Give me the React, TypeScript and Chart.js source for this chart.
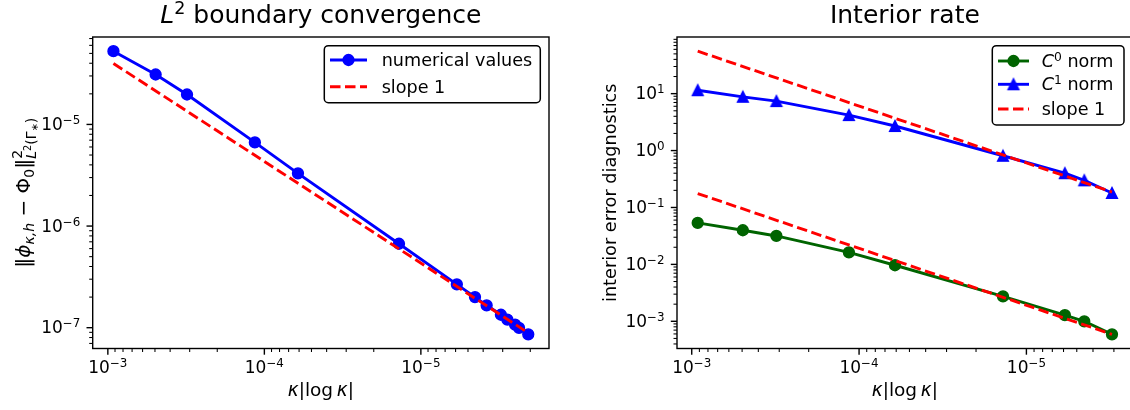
import { useEffect, useRef } from "react";
import { Chart, registerables } from "chart.js";

Chart.register(...registerables);

// ---------------- data ----------------
// Left panel: L2 boundary convergence
const boundaryKappa = [9.21e-4, 4.95e-4, 3.12e-4, 1.15e-4, 6.1e-5, 1.38e-5, 5.89e-6, 4.51e-6, 3.8e-6, 3.08e-6, 2.8e-6, 2.5e-6, 2.36e-6, 2.06e-6];
const boundaryError = [5.26e-5, 3.1e-5, 1.97e-5, 6.65e-6, 3.3e-6, 6.7e-7, 2.67e-7, 2.0e-7, 1.66e-7, 1.34e-7, 1.2e-7, 1.07e-7, 9.95e-8, 8.6e-8];
const boundarySlopeX = [9.21e-4, 2.06e-6];
const boundarySlopeY = [3.98e-5, 8.9e-8];

// Right panel: interior rate
const interiorKappa = [9.21e-4, 4.95e-4, 3.12e-4, 1.15e-4, 6.1e-5, 1.38e-5, 5.89e-6, 4.51e-6, 3.08e-6];
const interiorC0 = [0.0535, 0.0398, 0.0316, 0.0163, 0.00966, 0.00275, 0.00128, 0.001, 0.00059];
const interiorC1 = [11.5, 8.8, 7.4, 4.2, 2.7, 0.81, 0.4, 0.3, 0.18];
const interiorSlopeX = [9.21e-4, 3.08e-6];
const interiorSlopeUpperY = [55.8, 0.187];
const interiorSlopeLowerY = [0.176, 5.9e-4];

// ---------------- styles ----------------
const BLUE = "#0000ff";
const RED = "#ff0000";
const GREEN = "#006400";
const LW = 2.9;
const DASH = [10.5, 4.5];
const MARKER_R = 5.4;
const TICK_F = 17;
const LABEL_F = 17.7;
const XLABEL_F = 18.5;
const YLABEL_MATH_F = 20;
const LEGEND_F = 17.6;
const TITLE_F = 25;
const FAMILY = '"DejaVu Sans", "Liberation Sans", sans-serif';
const H = 410;

type Seg = { t: string; it?: boolean; s?: number; dy?: number; save?: boolean; restore?: boolean };

function segFont(F: number, g: Seg) {
  return `${g.it ? "italic " : ""}${(F * (g.s ?? 1)).toFixed(2)}px ${FAMILY}`;
}

function drawRich(
  ctx: CanvasRenderingContext2D,
  segs: Seg[],
  F: number,
  x: number,
  y: number,
  align: "left" | "center" | "right",
  rot = 0
) {
  let cx = 0;
  let saved = 0;
  let far = 0;
  const items: { g: Seg; x: number }[] = [];
  for (const g of segs) {
    if (g.restore) cx = saved;
    if (g.save) saved = cx;
    ctx.font = segFont(F, g);
    items.push({ g, x: cx });
    cx += ctx.measureText(g.t).width;
    far = Math.max(far, cx);
  }
  const x0 = align === "left" ? 0 : align === "center" ? -far / 2 : -far;
  ctx.save();
  ctx.translate(x, y);
  if (rot) ctx.rotate(rot);
  ctx.fillStyle = "#000";
  ctx.textAlign = "left";
  ctx.textBaseline = "alphabetic";
  for (const it of items) {
    ctx.font = segFont(F, it.g);
    ctx.fillText(it.g.t, x0 + it.x, (it.g.dy ?? 0) * F);
  }
  ctx.restore();
}

function powLabel(n: number): Seg[] {
  return [{ t: "10" }, { t: n < 0 ? "\u2212" + String(-n) : String(n), s: 0.7, dy: -0.35 }];
}

function triangleMarker(color: string) {
  const c = document.createElement("canvas");
  c.width = 16;
  c.height = 16;
  const g = c.getContext("2d")!;
  const h = MARKER_R;
  g.beginPath();
  g.moveTo(8, 8 - h);
  g.lineTo(8 - h, 8 + h);
  g.lineTo(8 + h, 8 + h);
  g.closePath();
  g.fillStyle = color;
  g.fill();
  g.lineWidth = 1.4;
  g.strokeStyle = color;
  g.stroke();
  return c;
}

function logLimits(values: number[]) {
  const lo = Math.log10(Math.min(...values));
  const hi = Math.log10(Math.max(...values));
  const m = (hi - lo) * 0.05;
  return { min: Math.pow(10, lo - m), max: Math.pow(10, hi + m) };
}

type LegendEntry = { y: number; segs: Seg[]; color: string; dash?: number[]; marker?: "circle" | "triangle" };
type PanelSpec = {
  left: number;
  width: number;
  area: { l: number; r: number; t: number; b: number };
  datasets: any[];
  allX: number[];
  allY: number[];
  title: Seg[];
  ylabel: Seg[];
  ylabelF: number;
  ylabelX: number;
  legend: { x: number; y: number; w: number; h: number; lx1: number; lx2: number; tx: number; entries: LegendEntry[] };
};

function pts(xs: number[], ys: number[]) {
  return xs.map((x, i) => ({ x, y: ys[i] }));
}

const xLabel: Seg[] = [{ t: "κ", it: true }, { t: "|" }, { t: "log" }, { t: "\u2009" }, { t: "κ", it: true }, { t: "|" }];

function decorPlugin(spec: PanelSpec, tri: HTMLCanvasElement) {
  return {
    id: "decor",
    afterDraw(chart: any) {
      const ctx: CanvasRenderingContext2D = chart.ctx;
      const xs = chart.scales.x;
      const ys = chart.scales.y;
      const ox = spec.left;
      const { l, r, t, b } = spec.area;
      ctx.save();
      ctx.translate(-ox, 0);
      ctx.strokeStyle = "#000";
      ctx.setLineDash([]);
      // x ticks
      const xLo = Math.floor(Math.log10(xs.min));
      const xHi = Math.ceil(Math.log10(xs.max));
      for (let n = xLo; n <= xHi; n++) {
        for (let k = 1; k <= 9; k++) {
          const v = k * Math.pow(10, n);
          if (v < xs.min || v > xs.max) continue;
          const px = xs.getPixelForValue(v) + ox;
          ctx.lineWidth = k === 1 ? 1.4 : 1.05;
          ctx.beginPath();
          ctx.moveTo(px, b);
          ctx.lineTo(px, b + (k === 1 ? 6.2 : 3.5));
          ctx.stroke();
          if (k === 1) drawRich(ctx, powLabel(n), TICK_F, px, b + 24, "center");
        }
      }
      // y ticks
      const yLo = Math.floor(Math.log10(ys.min));
      const yHi = Math.ceil(Math.log10(ys.max));
      for (let n = yLo; n <= yHi; n++) {
        for (let k = 1; k <= 9; k++) {
          const v = k * Math.pow(10, n);
          if (v < ys.min || v > ys.max) continue;
          const py = ys.getPixelForValue(v);
          ctx.lineWidth = k === 1 ? 1.4 : 1.05;
          ctx.beginPath();
          ctx.moveTo(l, py);
          ctx.lineTo(l - (k === 1 ? 6.2 : 3.5), py);
          ctx.stroke();
          if (k === 1) drawRich(ctx, powLabel(n), TICK_F, l - 12.4, py + 5.5, "right");
        }
      }
      // frame
      ctx.lineWidth = 1.4;
      ctx.strokeRect(l, t, r - l, b - t);
      // axis labels & title
      drawRich(ctx, xLabel, XLABEL_F, (l + r) / 2, 396, "center");
      drawRich(ctx, spec.ylabel, spec.ylabelF, spec.ylabelX, (t + b) / 2, "center", -Math.PI / 2);
      drawRich(ctx, spec.title, TITLE_F, (l + r) / 2, 23.3, "center");
      // legend
      const lg = spec.legend;
      ctx.beginPath();
      ctx.roundRect(lg.x, lg.y, lg.w, lg.h, 4);
      ctx.fillStyle = "#fff";
      ctx.fill();
      ctx.lineWidth = 1.5;
      ctx.strokeStyle = "#000";
      ctx.stroke();
      for (const e of lg.entries) {
        ctx.save();
        ctx.strokeStyle = e.color;
        ctx.lineWidth = LW;
        ctx.setLineDash(e.dash ?? []);
        ctx.beginPath();
        ctx.moveTo(lg.lx1, e.y);
        ctx.lineTo(lg.lx2, e.y);
        ctx.stroke();
        ctx.setLineDash([]);
        const mx = (lg.lx1 + lg.lx2) / 2;
        if (e.marker === "circle") {
          ctx.beginPath();
          ctx.arc(mx, e.y, MARKER_R, 0, Math.PI * 2);
          ctx.fillStyle = e.color;
          ctx.fill();
          ctx.lineWidth = 1.5;
          ctx.stroke();
        } else if (e.marker === "triangle") {
          ctx.drawImage(tri, mx - 8, e.y - 8);
        }
        ctx.restore();
        drawRich(ctx, e.segs, LEGEND_F, lg.tx, e.y + 6.1, "left");
      }
      ctx.restore();
    },
  };
}

function buildChart(canvas: HTMLCanvasElement, spec: PanelSpec, tri: HTMLCanvasElement) {
  const xLim = logLimits(spec.allX);
  const yLim = logLimits(spec.allY);
  return new Chart(canvas, {
    type: "line",
    data: { datasets: spec.datasets },
    options: {
      animation: false,
      responsive: false,
      devicePixelRatio: 1,
      events: [],
      layout: {
        padding: {
          left: spec.area.l - spec.left,
          right: spec.left + spec.width - spec.area.r,
          top: spec.area.t,
          bottom: H - spec.area.b,
        },
      },
      scales: {
        x: { type: "logarithmic", reverse: true, min: xLim.min, max: xLim.max, bounds: "data", display: false },
        y: { type: "logarithmic", min: yLim.min, max: yLim.max, bounds: "data", display: false },
      },
      plugins: { legend: { display: false }, tooltip: { enabled: false }, title: { display: false } },
    } as any,
    plugins: [decorPlugin(spec, tri) as any],
  });
}

function lineDs(label: string, data: any[], color: string, order: number, extra: any = {}) {
  return {
    label,
    data,
    borderColor: color,
    backgroundColor: color,
    borderWidth: LW,
    borderJoinStyle: "round",
    tension: 0,
    fill: false,
    pointRadius: MARKER_R,
    pointBorderWidth: 1.5,
    pointBackgroundColor: color,
    pointBorderColor: color,
    pointStyle: "circle",
    order,
    ...extra,
  };
}

function leftSpec(): PanelSpec {
  return {
    left: 0,
    width: 565,
    area: { l: 92.7, r: 549, t: 37, b: 348.5 },
    datasets: [
      lineDs("numerical values", pts(boundaryKappa, boundaryError), BLUE, 1),
      lineDs("slope 1", pts(boundarySlopeX, boundarySlopeY), RED, 0, { borderDash: DASH, pointRadius: 0 }),
    ],
    allX: [...boundaryKappa, ...boundarySlopeX],
    allY: [...boundaryError, ...boundarySlopeY],
    title: [{ t: "L", it: true }, { t: "2", s: 0.7, dy: -0.37 }, { t: " boundary convergence" }],
    ylabel: [
      { t: "‖" },
      { t: "ϕ", it: true },
      { t: "κ,h", it: true, s: 0.7, dy: 0.22 },
      { t: " − " },
      { t: "Φ" },
      { t: "0", s: 0.7, dy: 0.22 },
      { t: "‖" },
      { t: "2", s: 0.7, dy: -0.42, save: true },
      { t: "L", it: true, s: 0.7, dy: 0.32, restore: true },
      { t: "2", s: 0.49, dy: 0.05 },
      { t: "(Γ", s: 0.7, dy: 0.32 },
      { t: "∗", s: 0.49, dy: 0.42 },
      { t: ")", s: 0.7, dy: 0.32 },
    ],
    ylabelF: YLABEL_MATH_F,
    ylabelX: 30,
    legend: {
      x: 324.3,
      y: 45.7,
      w: 216,
      h: 57,
      lx1: 330,
      lx2: 367,
      tx: 381.7,
      entries: [
        { y: 60, segs: [{ t: "numerical values" }], color: BLUE, marker: "circle" },
        { y: 86.7, segs: [{ t: "slope 1" }], color: RED, dash: DASH },
      ],
    },
  };
}

function rightSpec(tri: HTMLCanvasElement): PanelSpec {
  return {
    left: 565,
    width: 580,
    area: { l: 677, r: 1132.7, t: 37, b: 348.5 },
    datasets: [
      lineDs("C0 norm", pts(interiorKappa, interiorC0), GREEN, 3),
      lineDs("C1 norm", pts(interiorKappa, interiorC1), BLUE, 2, { pointStyle: tri }),
      lineDs("slope 1", pts(interiorSlopeX, interiorSlopeUpperY), RED, 1, { borderDash: DASH, pointRadius: 0 }),
      lineDs("slope 1 (lower)", pts(interiorSlopeX, interiorSlopeLowerY), RED, 0, { borderDash: DASH, pointRadius: 0 }),
    ],
    allX: [...interiorKappa, ...interiorSlopeX],
    allY: [...interiorC0, ...interiorC1, ...interiorSlopeUpperY, ...interiorSlopeLowerY],
    title: [{ t: "Interior rate" }],
    ylabel: [{ t: "interior error diagnostics" }],
    ylabelF: LABEL_F,
    ylabelX: 616,
    legend: {
      x: 992.3,
      y: 45.7,
      w: 131.7,
      h: 79.3,
      lx1: 998,
      lx2: 1029,
      tx: 1041.7,
      entries: [
        { y: 61, segs: [{ t: "C", it: true }, { t: "0", s: 0.7, dy: -0.35 }, { t: " norm" }], color: GREEN, marker: "circle" },
        { y: 84.3, segs: [{ t: "C", it: true }, { t: "1", s: 0.7, dy: -0.35 }, { t: " norm" }], color: BLUE, marker: "triangle" },
        { y: 109, segs: [{ t: "slope 1" }], color: RED, dash: DASH },
      ],
    },
  };
}

export default function App() {
  const leftRef = useRef<HTMLCanvasElement>(null);
  const rightRef = useRef<HTMLCanvasElement>(null);
  useEffect(() => {
    const tri = triangleMarker(BLUE);
    const charts = [
      buildChart(leftRef.current!, leftSpec(), tri),
      buildChart(rightRef.current!, rightSpec(tri), tri),
    ];
    return () => charts.forEach((c) => c.destroy());
  }, []);
  return (
    <div style={{ position: "absolute", left: 0, top: 0, width: 1130, height: H, overflow: "hidden", background: "#fff" }}>
      <canvas ref={leftRef} width={565} height={H} style={{ position: "absolute", left: 0, top: 0, width: 565, height: H }} />
      <canvas ref={rightRef} width={580} height={H} style={{ position: "absolute", left: 565, top: 0, width: 580, height: H }} />
    </div>
  );
}
